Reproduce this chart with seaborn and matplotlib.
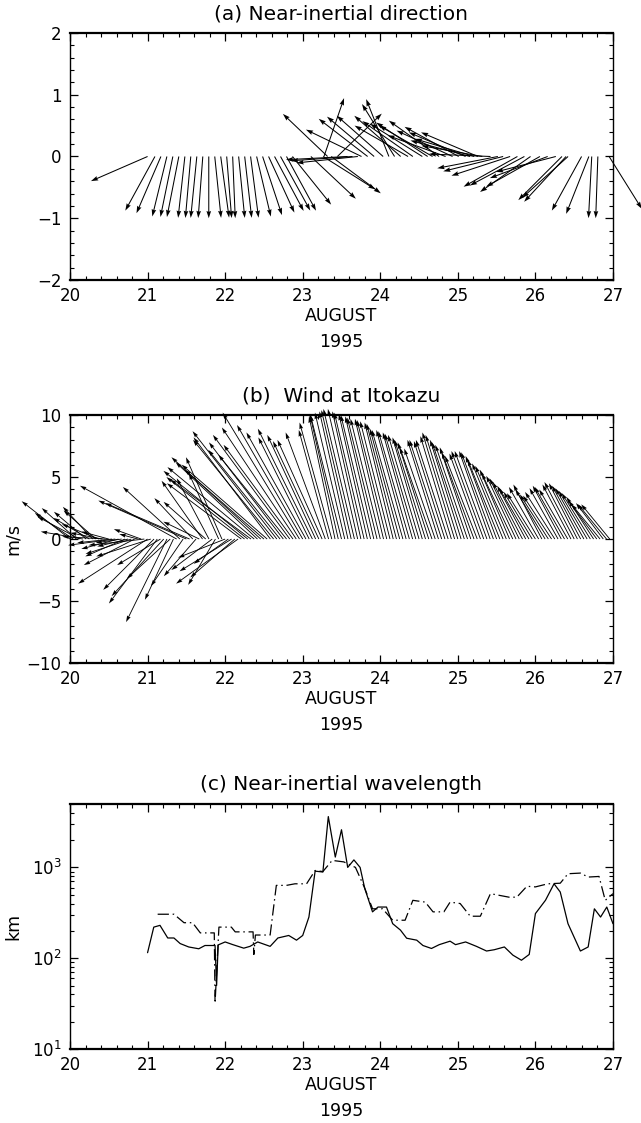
import numpy as np
import pandas as pd
import matplotlib
matplotlib.use("Agg")
import matplotlib.pyplot as plt
import seaborn as sns
from matplotlib.ticker import MultipleLocator, LogLocator, NullFormatter

# ---------------- data ----------------
# (a) near-inertial direction: time (day of August 1995) and direction (deg, 0 = east, 90 = north)
dir_day = [21.000, 21.095, 21.172, 21.249, 21.326, 21.403, 21.481, 21.557, 21.635, 21.712,
           21.789, 21.866, 21.943, 22.020, 22.097, 22.174, 22.252, 22.328, 22.406, 22.483,
           22.560, 22.637, 22.714, 22.791, 22.868, 23.105, 23.263, 23.368, 23.579, 23.642,
           23.711, 23.274, 23.447, 23.321, 23.758, 23.837, 23.921, 24.037, 24.111, 24.184,
           24.263, 24.358, 24.420, 24.542, 24.611, 24.674, 24.758, 24.842, 24.932, 25.011,
           25.100, 25.158, 25.211, 25.258, 25.316, 25.421, 25.516, 25.584, 25.674, 25.768,
           25.858, 25.937, 26.058, 26.158, 26.263, 26.342, 26.395, 26.421, 26.595, 26.689,
           26.726, 26.805, 26.950]
dir_deg = [203.5, 241.3, 246.7, 256.3, 258.4, 258.9, 263.7, 265.0, 264.3, 265.7,
           270.0, 275.9, 277.8, 274.6, 272.4, 275.7, 276.5, 277.4, 283.3, 288.3,
           294.7, 298.1, 298.8, 298.6, 308.8, 316.8, 327.8, 323.4, 183.0, 184.0,
           186.0, 71.0, 44.0, 136.4, 154.2, 142.4, 139.8, 138.7, 111.6, 121.8,
           138.7, 150.0, 145.0, 148.0, 146.6, 150.0, 144.5, 160.0, 155.2, 151.3,
           157.0, 165.0, 163.4, 157.0, 170.0, 177.7, 191.0, 193.9, 198.1, 209.3,
           208.0, 215.1, 209.3, 200.5, 194.5, 225.0, 227.2, 222.0, 241.2, 248.4,
           267.0, 268.0, 302.0]

# (b) hourly wind at Itokazu (m/s), starting 20 August 00h
wind_start_day = 20.0
wind_step_hours = 1.0
wind_u = [-3.9, -3.1, -2.8, -3.4, -3.4, -2.6, -2.9, -2.4, -2.6, -3.0,
          -2.6, -3.5, -2.2, -2.8, -3.8, -3.0, -2.1, -3.2, -2.5, -3.7,
          -4.1, -1.5, -2.2, -4.5, -5.6, -4.4, -4.1, -3.9, -3.5, -4.2,
          -3.3, -3.5, -2.3, -7.8, -4.6, -2.6, -7.1, -6.8, -3.1, -2.6,
          -2.9, -3.3, -3.4, -2.6, -3.3, -2.2, -2.4, -2.9, -3.8, -2.8,
          -4.2, -3.6, -5.0, -6.0, -6.3, -6.8, -6.5, -7.0, -6.6, -7.2,
          -6.4, -6.9, -6.2, -6.5, -6.8, -5.8, -6.0, -5.5, -6.2, -5.6,
          -6.0, -6.2, -5.3, -4.8, -4.1, -4.4, -3.9, -3.7, -3.6, -3.2,
          -2.4, -2.6, -2.1, -2.3, -2.5, -2.4, -2.3, -2.4, -2.5, -2.4,
          -2.3, -2.4, -2.3, -2.4, -2.3, -2.4, -2.4, -2.3, -2.4, -2.4,
          -2.3, -2.4, -2.4, -2.5, -2.4, -2.5, -2.4, -2.5, -2.5, -2.4,
          -2.5, -2.5, -2.6, -2.5, -2.5, -2.6, -2.5, -2.6, -2.5, -2.6,
          -2.6, -2.5, -2.6, -2.6, -2.5, -2.6, -2.6, -2.5, -2.6, -2.6,
          -2.5, -2.6, -2.5, -2.6, -2.5, -2.5, -2.4, -2.5, -2.4, -2.4,
          -2.4, -2.3, -2.4, -2.3, -2.3, -2.4, -2.3, -2.4, -2.3, -2.3,
          -2.4, -2.3, -2.3, -2.4, -2.3, -2.3, -2.4, -2.3, -2.3, -2.3,
          -2.3, -2.3, -2.2, -2.3, -2.3, -2.2, -2.3, -2.3]
wind_v = [3.05, 2.1, 2.5, 1.8, 0.6, 2.2, 1.7, 2.6, 2.3, 1.2,
          0.5, 0.2, 0.6, -0.3, -0.5, -0.8, -0.3, -1.4, -0.6, -1.2,
          -2.1, 0.4, 0.8, -0.5, -3.6, -1.4, -4.1, -5.2, -2.1, -4.6,
          -6.7, -3.2, -4.9, 4.3, 4.2, -3.8, 3.1, 2.9, 3.3, -3.0,
          1.4, 4.7, 3.0, 4.9, -2.5, -3.7, 5.3, 6.6, -1.5, -2.0,
          -2.6, -3.1, -3.6, 4.5, 5.0, 5.5, 4.8, 5.8, 6.2, 6.6,
          5.6, 6.0, 8.2, 8.0, 8.7, 7.2, 7.8, 6.8, 8.4, 7.6,
          9.0, 10.2, 9.2, 8.6, 8.2, 8.9, 8.4, 7.9, 8.0, 8.6,
          8.8, 9.4, 9.9, 10.1, 10.0, 10.2, 10.3, 10.4, 10.5, 10.5,
          10.3, 10.2, 10.1, 10.0, 9.9, 9.8, 9.7, 9.7, 9.6, 9.5,
          9.4, 9.3, 8.9, 8.8, 8.8, 8.7, 8.6, 8.5, 8.4, 8.2,
          8.0, 7.8, 7.4, 7.3, 8.0, 8.0, 7.9, 8.0, 8.3, 8.6,
          8.4, 8.0, 7.8, 7.6, 7.4, 7.0, 6.7, 6.9, 7.1, 7.1,
          7.1, 7.0, 6.7, 6.4, 6.1, 5.9, 5.6, 5.3, 5.1, 4.9,
          4.6, 4.3, 4.1, 3.8, 3.7, 4.2, 4.4, 4.0, 3.6, 3.5,
          3.8, 4.1, 4.3, 4.2, 4.0, 4.4, 4.6, 4.5, 4.3, 4.1,
          3.9, 3.7, 3.4, 3.1, 2.8, 2.9, 2.8, 2.8]

# (c) near-inertial wavelength (km)
solid_day = [21.00, 21.08, 21.16, 21.26, 21.34, 21.42, 21.53, 21.66, 21.74, 21.87,
             21.89, 21.91, 22.00, 22.10, 22.24, 22.32, 22.42, 22.58, 22.68, 22.82,
             22.92, 23.00, 23.08, 23.16, 23.26, 23.33, 23.42, 23.50, 23.58, 23.66,
             23.74, 23.80, 23.90, 23.97, 24.08, 24.16, 24.26, 24.34, 24.47, 24.55,
             24.66, 24.76, 24.90, 24.97, 25.10, 25.24, 25.37, 25.47, 25.60, 25.71,
             25.82, 25.92, 26.00, 26.13, 26.24, 26.32, 26.42, 26.58, 26.68, 26.76,
             26.84, 26.92, 27.00]
solid_km = [115, 220, 230, 167, 167, 145, 133, 127, 138, 138,
            50, 140, 151, 141, 129, 135, 151, 135, 167, 178,
            158, 178, 284, 910, 890, 3630, 1300, 2600, 1000, 1210,
            1000, 585, 324, 366, 366, 240, 204, 166, 158, 138,
            128, 141, 154, 141, 151, 135, 120, 124, 133, 108,
            95, 110, 310, 435, 660, 536, 240, 120, 133, 350,
            284, 366, 240]
dd_day = [21.13, 21.34, 21.47, 21.58, 21.68, 21.82, 21.86, 21.87, 21.92, 22.08,
          22.13, 22.26, 22.36, 22.37, 22.39, 22.58, 22.66, 22.79, 22.90, 23.05,
          23.16, 23.26, 23.38, 23.53, 23.68, 23.80, 23.90, 24.03, 24.16, 24.32,
          24.42, 24.58, 24.68, 24.82, 24.90, 25.03, 25.16, 25.29, 25.42, 25.66,
          25.76, 25.89, 26.00, 26.16, 26.32, 26.42, 26.58, 26.68, 26.82, 26.90,
          27.00]
dd_km = [305, 305, 246, 246, 190, 190, 190, 32, 220, 220,
         195, 195, 195, 110, 180, 180, 634, 634, 660, 660,
         925, 900, 1195, 1150, 1000, 590, 350, 350, 262, 262,
         434, 415, 324, 324, 415, 400, 290, 290, 514, 470,
         470, 620, 610, 660, 670, 852, 866, 783, 795, 434,
         514]

# ---------------- style ----------------
sns.set_theme(style="ticks")
plt.rcParams["font.family"] = ["DejaVu Sans"]
plt.rcParams["axes.unicode_minus"] = True

fig = plt.figure(figsize=(6.41, 11.23), dpi=100)
fig.patch.set_facecolor("white")

L, W = 0.1092, 0.8471
ax_a = fig.add_axes([L, 0.7507, W, 0.2199])
ax_b = fig.add_axes([L, 0.4096, W, 0.2208])
ax_c = fig.add_axes([L, 0.0659, W, 0.2182])


def common(ax, title):
    ax.set_facecolor("white")
    ax.set_xlim(20, 27)
    ax.xaxis.set_major_locator(MultipleLocator(1))
    ax.xaxis.set_minor_locator(MultipleLocator(0.2))
    ax.tick_params(which="both", direction="in", top=True, right=True,
                   colors="black", labelcolor="black")
    ax.tick_params(which="major", length=6, width=0.9, labelsize=12, pad=5)
    ax.tick_params(which="minor", length=2.8, width=0.8)
    ax.tick_params(axis="y", which="major", pad=6)
    for side in ["top", "bottom"]:
        ax.spines[side].set_linewidth(1.6)
    for side in ["left", "right"]:
        ax.spines[side].set_linewidth(1.0)
    for s in ax.spines.values():
        s.set_color("black")
    ax.set_title(title, fontsize=14.5, pad=10, color="black")
    ax.set_xlabel("AUGUST\n1995", fontsize=12.5, linespacing=1.55, color="black")
    ax.xaxis.set_label_coords(0.5, -0.11)
    ax.xaxis.label.set_va("top")
    ax.grid(False)


# ---------------- (a) ----------------
th = np.deg2rad(dir_deg)
qa = ax_a.quiver(dir_day, np.zeros(len(dir_day)), np.cos(th), np.sin(th),
                 angles="uv", scale_units="y", scale=1, color="black",
                 width=0.0019, headwidth=4.5, headlength=7, headaxislength=6.3)
qa.set_clip_on(False)
ax_a.set_ylim(-2, 2)
ax_a.yaxis.set_major_locator(MultipleLocator(1))
ax_a.yaxis.set_minor_locator(MultipleLocator(0.2))
common(ax_a, "(a) Near-inertial direction")

# ---------------- (b) ----------------
n = len(wind_u)
wind_day = wind_start_day + np.arange(n) * wind_step_hours / 24.0
qb = ax_b.quiver(wind_day, np.zeros(n), wind_u, wind_v,
                 angles="uv", scale_units="y", scale=1, color="black",
                 width=0.0016, headwidth=4.5, headlength=7.5, headaxislength=6.8)
qb.set_clip_on(False)
ax_b.set_ylim(-10, 10)
ax_b.yaxis.set_major_locator(MultipleLocator(5))
ax_b.yaxis.set_minor_locator(MultipleLocator(1))
common(ax_b, "(b)  Wind at Itokazu")
ax_b.set_ylabel("m/s", fontsize=12.5, color="black")
ax_b.yaxis.set_label_coords(-0.088, 0.5)

# ---------------- (c) ----------------
ax_c.set_yscale("log")
df_s = pd.DataFrame({"day": solid_day, "km": solid_km})
df_d = pd.DataFrame({"day": dd_day, "km": dd_km})
sns.lineplot(data=df_s, x="day", y="km", ax=ax_c, color="black", lw=0.9,
             sort=False, estimator=None)
sns.lineplot(data=df_d, x="day", y="km", ax=ax_c, color="black", lw=0.9,
             sort=False, estimator=None, linestyle=(0, (9, 3, 1.2, 3)))
ax_c.set_ylim(10, 5000)
ax_c.yaxis.set_major_locator(LogLocator(base=10, numticks=10))
ax_c.yaxis.set_minor_locator(LogLocator(base=10, subs=np.arange(2, 10), numticks=10))
ax_c.yaxis.set_minor_formatter(NullFormatter())
common(ax_c, "(c) Near-inertial wavelength")
ax_c.set_ylabel("km", fontsize=12.5, color="black")
ax_c.yaxis.set_label_coords(-0.088, 0.5)

fig.savefig("out.png", dpi=100, facecolor="white")
